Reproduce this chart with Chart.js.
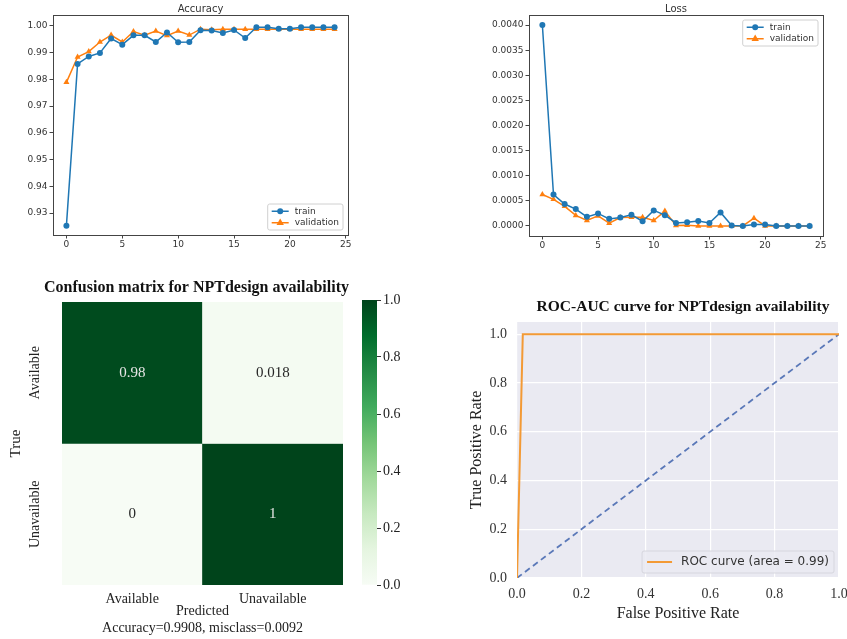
<!DOCTYPE html>
<html>
<head>
<meta charset="utf-8">
<script src="https://cdn.jsdelivr.net/npm/chart.js@4.4.0/dist/chart.umd.min.js"></script>
<style>
  body { margin: 0; background: #fff; }
  #fig { position: relative; width: 847px; height: 639px; overflow: hidden; }
  canvas { position: absolute; }
</style>
</head>
<body>
<div id="fig">
  <canvas id="acc" width="360" height="250" style="left:0;top:0"></canvas>
  <canvas id="loss" width="427" height="250" style="left:420px;top:0"></canvas>
  <canvas id="cm" width="360" height="369" style="left:0;top:270px"></canvas>
  <canvas id="cbar" width="80" height="369" style="left:340px;top:270px"></canvas>
  <canvas id="roc" width="427" height="359" style="left:420px;top:280px"></canvas>
</div>
<script>
// training history
const epochs = [0, 1, 2, 3, 4, 5, 6, 7, 8, 9, 10, 11, 12, 13, 14, 15, 16, 17, 18, 19, 20, 21, 22, 23, 24];
const accTrain = [0.9253, 0.9858, 0.9886, 0.9899, 0.9953, 0.9930, 0.9965, 0.9965, 0.9940, 0.9976, 0.9939, 0.9940, 0.9984,
                  0.9983, 0.9974, 0.9985, 0.9955, 0.9995, 0.9995, 0.9990, 0.9990, 0.9995, 0.9995, 0.9995, 0.9995];
const accVal = [0.9789, 0.9884, 0.9904, 0.9940, 0.9966, 0.9940, 0.9979, 0.9965, 0.9981, 0.9964, 0.9981, 0.9966, 0.9988,
                0.9986, 0.9988, 0.9988, 0.9988, 0.9988, 0.9988, 0.9988, 0.9988, 0.9988, 0.9988, 0.9988, 0.9988];
const lossTrain = [0.0040, 0.000625, 0.000437, 0.000336, 0.000181, 0.000249, 0.000141, 0.000168, 0.000222, 0.000094,
                   0.000309, 0.000215, 0.00006, 0.000074, 0.0001, 0.00006, 0.000269, 0.00001, 0, 0.000027, 0.000027, 0, 0, 0, 0];
const lossVal = [0.000625, 0.00053, 0.00039, 0.00021, 0.000108, 0.0002, 0.000054, 0.000168, 0.000175, 0.000175,
                 0.000108, 0.000296, 0.00001, 0.000013, 0, 0, 0, 0, 0, 0.000155, 0, 0, 0, 0, 0];
const epochTicks = [0, 5, 10, 15, 20, 25];
const accTicks = [0.93, 0.94, 0.95, 0.96, 0.97, 0.98, 0.99, 1.00];
const lossTicks = [0, 0.0005, 0.001, 0.0015, 0.002, 0.0025, 0.003, 0.0035, 0.004];

// confusion matrix
const cmRows = ['Available', 'Unavailable'];
const cmCols = ['Available', 'Unavailable'];
const cmValues = [[0.98, 0.018], [0, 1]];
const cbarTicks = [0, 0.2, 0.4, 0.6, 0.8, 1.0];

// roc
const rocFpr = [0, 0.018, 1];
const rocTpr = [0, 1, 1];
const chanceFpr = [0, 1];
const chanceTpr = [0, 1];
const rateTicks = [0, 0.2, 0.4, 0.6, 0.8, 1.0];

const SANS = "'DejaVu Sans', sans-serif";
const SERIF = "'Liberation Serif', serif";
const BLUE = '#1f77b4';
const ORANGE = '#ff7f0e';

const greensStops = ['#f7fcf5', '#e5f5e0', '#c7e9c0', '#a1d99b', '#74c476', '#41ab5d', '#238b45', '#006d2c', '#00441b'];
function hexRgb(h) { return [1, 3, 5].map(i => parseInt(h.substr(i, 2), 16)); }
function greens(t) {
    const n = greensStops.length - 1;
    const p = Math.min(Math.max(t, 0), 1) * n;
    const i = Math.min(Math.floor(p), n - 1);
    const f = p - i;
    const a = hexRgb(greensStops[i]), b = hexRgb(greensStops[i + 1]);
    const c = a.map((v, k) => Math.round(v + (b[k] - v) * f));
    return `rgb(${c[0]}, ${c[1]}, ${c[2]})`;
}

function drawMarker(ctx, style, x, y, r, color) {
    ctx.fillStyle = color;
    ctx.beginPath();
    if (style === 'triangle') {
        ctx.moveTo(x, y - r * 1.2);
        ctx.lineTo(x + r * 1.05, y + r * 0.65);
        ctx.lineTo(x - r * 1.05, y + r * 0.65);
        ctx.closePath();
    } else {
        ctx.arc(x, y, r, 0, Math.PI * 2);
    }
    ctx.fill();
}

// matplotlib-like box round the axes
const frame = {
    id: 'frame',
    afterDraw(chart, args, o) {
        if (!o || !o.color) return;
        const a = chart.chartArea, ctx = chart.ctx;
        ctx.save();
        ctx.strokeStyle = o.color;
        ctx.lineWidth = 1;
        ctx.strokeRect(Math.round(a.left) + 0.5, Math.round(a.top) + 0.5, Math.round(a.right - a.left), Math.round(a.bottom - a.top));
        ctx.restore();
    }
};

const plotBg = {
    id: 'plotBg',
    beforeDraw(chart, args, o) {
        if (!o || !o.color) return;
        const a = chart.chartArea, ctx = chart.ctx;
        ctx.save();
        ctx.fillStyle = o.color;
        ctx.fillRect(a.left, a.top, a.right - a.left, a.bottom - a.top);
        ctx.restore();
    }
};

// title centred over the plot area
const axesTitle = {
    id: 'axesTitle',
    afterDraw(chart, args, o) {
        if (!o || !o.text) return;
        const a = chart.chartArea, ctx = chart.ctx;
        ctx.save();
        ctx.font = o.font;
        ctx.fillStyle = o.color;
        ctx.textAlign = 'center';
        ctx.textBaseline = 'middle';
        ctx.fillText(o.text, (a.left + a.right) / 2 + (o.dx || 0), a.top - o.offset);
        ctx.restore();
    }
};

const boxLegend = {
    id: 'boxLegend',
    afterDraw(chart, args, o) {
        if (!o || !o.font) return;
        const ctx = chart.ctx, a = chart.chartArea;
        const items = chart.data.datasets.filter(d => d.label);
        ctx.save();
        ctx.font = o.font;
        const tw = Math.max(...items.map(d => ctx.measureText(d.label).width));
        const w = o.padX + o.sample + o.gap + tw + o.padX;
        const h = o.padY * 2 + items.length * o.row;
        const x = a.right - o.inset - w;
        const y = o.corner === 'top' ? a.top + o.inset : a.bottom - o.inset - h;
        ctx.beginPath();
        ctx.roundRect(x, y, w, h, 2);
        ctx.fillStyle = o.bg;
        ctx.fill();
        ctx.strokeStyle = o.border;
        ctx.lineWidth = 1;
        ctx.stroke();
        items.forEach((d, i) => {
            const cy = y + o.padY + o.row * (i + 0.5);
            ctx.strokeStyle = d.borderColor;
            ctx.lineWidth = d.borderWidth;
            ctx.beginPath();
            ctx.moveTo(x + o.padX, cy);
            ctx.lineTo(x + o.padX + o.sample, cy);
            ctx.stroke();
            if (d.pointRadius > 0) drawMarker(ctx, d.pointStyle, x + o.padX + o.sample / 2, cy, d.pointRadius, d.borderColor);
            ctx.fillStyle = o.color;
            ctx.textAlign = 'left';
            ctx.textBaseline = 'middle';
            ctx.fillText(d.label, x + o.padX + o.sample + o.gap, cy);
        });
        ctx.restore();
    }
};

const rowLabels = {
    id: 'rowLabels',
    afterDraw(chart, args, o) {
        if (!o || !o.labels) return;
        const ys = chart.scales.y, ctx = chart.ctx;
        ctx.save();
        ctx.font = o.font;
        ctx.fillStyle = o.color;
        ctx.textAlign = 'center';
        ctx.textBaseline = 'middle';
        o.labels.forEach((t, i) => {
            ctx.save();
            ctx.translate(o.x, ys.getPixelForValue(i + 0.5));
            ctx.rotate(-Math.PI / 2);
            ctx.fillText(t, 0, 0);
            ctx.restore();
        });
        ctx.restore();
    }
};

const cellText = {
    id: 'cellText',
    afterDatasetsDraw(chart, args, o) {
        if (!o || !o.font) return;
        const ctx = chart.ctx;
        ctx.save();
        ctx.font = o.font;
        ctx.textAlign = 'center';
        ctx.textBaseline = 'middle';
        chart.data.datasets.forEach((d, i) => {
            chart.getDatasetMeta(i).data.forEach((bar, j) => {
                const v = d.values[j];
                ctx.fillStyle = v > 0.5 ? o.light : o.dark;
                ctx.fillText(String(v), bar.x, (bar.y + bar.base) / 2);
            });
        });
        ctx.restore();
    }
};

const points = (xs, ys) => xs.map((x, i) => ({ x: x, y: ys[i] }));
const setTicks = list => scale => { scale.ticks = list.map(v => ({ value: v })); };

function historyChart(id, title, train, val, yTicks, yMin, yMax, fmt, box, legendCorner) {
    return new Chart(document.getElementById(id), {
        type: 'line',
        data: {
            datasets: [
                { label: 'train', data: points(epochs, train), borderColor: BLUE, backgroundColor: BLUE, borderWidth: 1.5,
                  pointStyle: 'circle', pointRadius: 3, pointBorderWidth: 0, pointBackgroundColor: BLUE },
                { label: 'validation', data: points(epochs, val), borderColor: ORANGE, backgroundColor: ORANGE, borderWidth: 1.5,
                  pointStyle: 'triangle', pointRadius: 3.5, pointBorderWidth: 0, pointBackgroundColor: ORANGE }
            ]
        },
        options: {
            responsive: false,
            animation: false,
            devicePixelRatio: 1,
            layout: { padding: { left: 0, right: box.right, top: 15, bottom: 0 } },
            plugins: {
                legend: { display: false },
                tooltip: { enabled: false },
                frame: { color: '#444' },
                axesTitle: { text: title, font: `10px ${SANS}`, color: '#333', offset: 6 },
                boxLegend: { font: `9px ${SANS}`, color: '#333', corner: legendCorner, inset: 5, padX: 4, padY: 1.5,
                             row: 11.5, sample: 17, gap: 6, bg: 'rgba(255,255,255,0.8)', border: '#d0d0d0' }
            },
            scales: {
                x: {
                    type: 'linear', min: -1.2, max: 25.2,
                    afterBuildTicks: setTicks(epochTicks),
                    grid: { drawOnChartArea: false, drawTicks: true, tickLength: 3.5, color: '#444' },
                    border: { display: false },
                    ticks: { font: { family: SANS, size: 9 }, color: '#333', padding: 1, maxRotation: 0 },
                    afterFit: s => { s.height = box.xh; }
                },
                y: {
                    min: yMin, max: yMax,
                    afterBuildTicks: setTicks(yTicks),
                    grid: { drawOnChartArea: false, drawTicks: true, tickLength: 3.5, color: '#444' },
                    border: { display: false },
                    ticks: { font: { family: SANS, size: 9 }, color: '#333', padding: 2, callback: v => v.toFixed(fmt) },
                    afterFit: s => { s.width = box.yw; }
                }
            }
        },
        plugins: [frame, axesTitle, boxLegend]
    });
}

historyChart('acc', 'Accuracy', accTrain, accVal, accTicks, 0.9218, 1.0041, 2, { right: 12, xh: 15, yw: 53 }, 'bottom');
historyChart('loss', 'Loss', lossTrain, lossVal, lossTicks, -0.0002, 0.0042, 4, { right: 24, xh: 14, yw: 109 }, 'top');

// confusion matrix heatmap
new Chart(document.getElementById('cm'), {
    type: 'bar',
    data: {
        labels: cmCols,
        datasets: cmValues.map((row, i) => ({
            label: cmRows[i],
            values: row,
            data: row.map(() => [i, i + 1]),
            backgroundColor: row.map(greens),
            borderWidth: 0,
            barPercentage: 1,
            categoryPercentage: 1,
            grouped: false
        }))
    },
    options: {
        responsive: false,
        animation: false,
        devicePixelRatio: 1,
        layout: { padding: { left: 0, right: 17, top: 32, bottom: 0 } },
        plugins: {
            legend: { display: false },
            tooltip: { enabled: false },
            axesTitle: { text: 'Confusion matrix for NPTdesign availability', font: `bold 16px ${SERIF}`, color: '#111', offset: 14, dx: -6 },
            rowLabels: { labels: cmRows, font: `14px ${SERIF}`, color: '#222', x: 35 },
            cellText: { font: `15px ${SERIF}`, light: '#e6e6e6', dark: '#262626' }
        },
        scales: {
            x: {
                grid: { display: false, drawTicks: false },
                border: { display: false },
                ticks: { font: { family: SERIF, size: 14 }, color: '#222', padding: 6 },
                title: { display: true, text: ['Predicted', 'Accuracy=0.9908, misclass=0.0092'], color: '#222',
                         font: { family: SERIF, size: 14 }, padding: { top: 0, bottom: 2 } },
                afterFit: s => { s.height = 54; }
            },
            y: {
                min: 0, max: 2, reverse: true,
                grid: { display: false, drawTicks: false },
                border: { display: false },
                ticks: { display: false },
                title: { display: true, text: 'True', color: '#222', font: { family: SERIF, size: 15 }, padding: { top: 7, bottom: 0 } },
                afterFit: s => { s.width = 62; }
            }
        }
    },
    plugins: [axesTitle, rowLabels, cellText]
});

// colour bar
new Chart(document.getElementById('cbar'), {
    type: 'bar',
    data: {
        labels: [''],
        datasets: [{
            data: [[0, 1]],
            borderWidth: 0,
            barPercentage: 1,
            categoryPercentage: 1,
            backgroundColor: c => {
                const a = c.chart.chartArea;
                if (!a) return greensStops[4];
                const g = c.chart.ctx.createLinearGradient(0, a.bottom, 0, a.top);
                greensStops.forEach((col, i) => g.addColorStop(i / (greensStops.length - 1), col));
                return g;
            }
        }]
    },
    options: {
        responsive: false,
        animation: false,
        devicePixelRatio: 1,
        layout: { padding: { left: 22, right: 0, top: 30, bottom: 54 } },
        plugins: { legend: { display: false }, tooltip: { enabled: false } },
        scales: {
            x: { display: false },
            y: {
                position: 'right', min: 0, max: 1,
                afterBuildTicks: setTicks(cbarTicks),
                grid: { drawOnChartArea: false, drawTicks: true, tickLength: 4, color: '#333' },
                border: { display: false },
                ticks: { font: { family: SERIF, size: 14 }, color: '#222', padding: 2, callback: v => v.toFixed(1) },
                afterFit: s => { s.width = 43; }
            }
        }
    }
});

// roc curve
new Chart(document.getElementById('roc'), {
    type: 'scatter',
    data: {
        datasets: [
            { label: 'ROC curve (area = 0.99)', data: points(rocFpr, rocTpr), showLine: true, borderColor: '#f39a35',
              borderWidth: 2, pointRadius: 0 },
            { data: points(chanceFpr, chanceTpr), showLine: true, borderColor: '#5a78b8', borderWidth: 1.8,
              borderDash: [6, 4], pointRadius: 0 }
        ]
    },
    options: {
        responsive: false,
        animation: false,
        devicePixelRatio: 1,
        layout: { padding: { left: 0, right: 8, top: 42, bottom: 0 } },
        plugins: {
            legend: { display: false },
            tooltip: { enabled: false },
            plotBg: { color: '#eaeaf2' },
            axesTitle: { text: 'ROC-AUC curve for NPTdesign availability', font: `bold 15.5px ${SERIF}`, color: '#111', offset: 15, dx: 5 },
            boxLegend: { font: `12px ${SANS}`, color: '#333', corner: 'bottom', inset: 5, padX: 5, padY: 2, row: 18,
                         sample: 25, gap: 9, bg: 'rgba(234,234,242,0.85)', border: '#d6d6de' }
        },
        scales: {
            x: {
                type: 'linear', min: 0, max: 1,
                afterBuildTicks: setTicks(rateTicks),
                grid: { color: '#ffffff', lineWidth: 1.2, drawTicks: false },
                border: { display: false },
                ticks: { font: { family: SERIF, size: 14 }, color: '#333', padding: 8, maxRotation: 0, callback: v => v.toFixed(1) },
                title: { display: true, text: 'False Positive Rate', color: '#222', font: { family: SERIF, size: 16 }, padding: { top: 0, bottom: 16 } },
                afterFit: s => { s.height = 61; s.paddingLeft = 0; s.paddingRight = 0; }
            },
            y: {
                min: 0, max: 1.05,
                afterBuildTicks: setTicks(rateTicks),
                grid: { color: '#ffffff', lineWidth: 1.2, drawTicks: false },
                border: { display: false },
                ticks: { font: { family: SERIF, size: 14 }, color: '#333', padding: 10, callback: v => v.toFixed(1) },
                title: { display: true, text: 'True Positive Rate', color: '#222', font: { family: SERIF, size: 16 }, padding: { top: 47, bottom: 0 } },
                afterFit: s => { s.width = 97; s.paddingTop = 0; s.paddingBottom = 0; }
            }
        }
    },
    plugins: [plotBg, axesTitle, boxLegend]
});
</script>
</body>
</html>
